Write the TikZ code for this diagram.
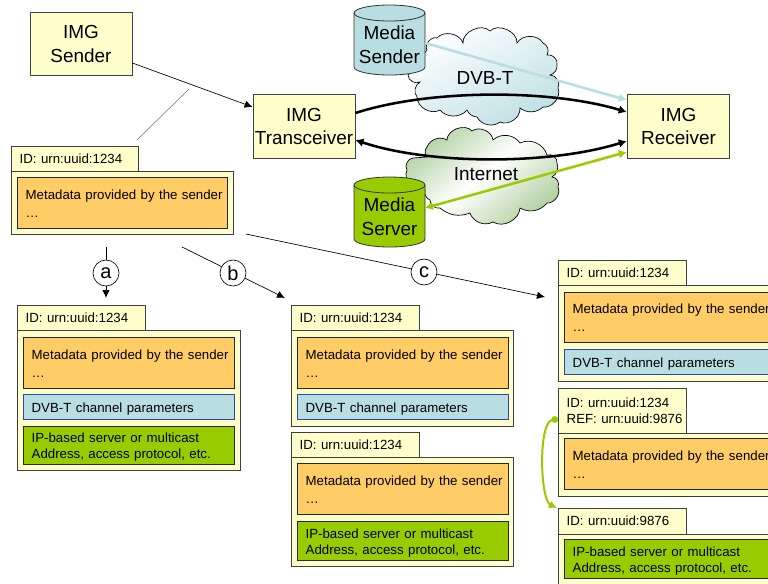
\documentclass[tikz,border=0pt]{standalone}
\usepackage{fontspec}
\setmainfont{Liberation Sans}
\usetikzlibrary{arrows.meta,shadings}
\definecolor{ylw}{HTML}{FFFFCC}
\definecolor{org}{HTML}{FFCC66}
\definecolor{blu}{HTML}{B9DEE2}
\definecolor{grn}{HTML}{99CC00}
\definecolor{cgrn}{HTML}{B0D0A0}
\definecolor{cblu}{HTML}{BFE0E4}
\definecolor{dblu}{HTML}{3344AA}
\tikzset{
 imgbox/.style={draw=black!75,fill=ylw,line width=0.6pt,align=center,font=\fontsize{14.2}{17.5}\selectfont},
 bigtxt/.style={font=\fontsize{14.2}{17.8}\selectfont,align=center,inner sep=0},
 framebox/.style={draw=black!75,fill=ylw,line width=0.6pt},
 tabbox/.style={framebox,font=\fontsize{9.95}{12}\selectfont},
 orgbox/.style={draw=black!85,fill=org,line width=0.6pt,font=\fontsize{9.95}{12.6}\selectfont},
 blubox/.style={draw=dblu,fill=blu,line width=0.6pt,font=\fontsize{9.95}{12}\selectfont},
 grnbox/.style={draw=black!85,fill=grn,line width=0.6pt,font=\fontsize{9.95}{12}\selectfont},
 conn/.style={-{Latex[length=6pt,width=5.5pt]},line width=0.5pt},
 heavy/.style={line width=1.9pt,>={Latex[length=6pt,width=6.5pt]}},
 circ/.style={circle,draw=black,fill=white,minimum size=19.5pt,inner sep=0,line width=0.5pt,font=\fontsize{15}{15}\selectfont},
 cloudline/.style={draw=black,line width=0.5pt},
}
% name, x0, y0, x1, y1, style, text
\newcommand{\recnode}[7]{%
 \pgfmathsetmacro{\rw}{(#4-#2)*0.75}\pgfmathsetmacro{\rh}{(#5-#3)*0.75}%
 \pgfmathsetmacro{\rtw}{max((#4-#2)*0.75-13,1)}%
 \node[#6,minimum width=\rw pt,minimum height=\rh pt,inner xsep=6.5pt,inner ysep=0pt,text width=\rtw pt,align=left] (#1) at ({(#2+#4)/2},{(#3+#5)/2}) {#7};}
\newcommand{\dn}[1]{\raisebox{-1.6pt}[0.75em][0.2em]{\mbox{#1}}}
\newcommand{\dt}[1]{\raisebox{-0.7pt}[0.75em][0.2em]{\mbox{#1}}}
\newcommand{\metatxt}{\dn{Metadata provided by the sender}\\[1pt]\dn{\ldots}}
\newcommand{\ipt}{\dn{IP-based server or multicast}\\\dn{Address, access protocol, etc.}}
\newcommand{\idt}{\dt{ID: urn:uuid:1234}}
\begin{document}
\begin{tikzpicture}[x=0.75pt,y=-0.75pt]
\useasboundingbox (0,0) rectangle (768,583);
\clip (0,0) rectangle (768,583);
\fill[white] (0,0) rectangle (768,583);
% clouds
\draw[cloudline,top color=white,bottom color=cblu,shading angle=30]
 (427,50) to[bend left=70] (437,38) to[bend left=60] (463,43) to[bend left=70] (490,31) to[bend left=70] (517,43) to[bend left=60] (543,43) to[bend left=50] (547,55) to[bend left=60] (557,65) to[bend left=40] (550,75) to[bend left=60] (558,88) to[bend left=60] (543,107) to[bend left=40] (520,108) to[bend left=60] (500,122) to[bend left=50] (477,117) to[bend left=30] (467,110) to[bend left=50] (440,110) to[bend left=60] (417,97) to[bend left=50] (420,82) to[bend left=60] (408,75) -- cycle;
\draw[cloudline,top color=cgrn,bottom color=cgrn,middle color=white,shading angle=40]
 (427,157) to[bend left=40] (427,147) to[bend left=50] (447,140) to[bend left=70] (472,131) to[bend left=60] (493,140) to[bend left=50] (520,143) to[bend left=50] (547,155) to[bend left=60] (557,163) to[bend left=40] (552,177) to[bend left=60] (558,187) to[bend left=60] (547,203) to[bend left=40] (520,208) to[bend left=60] (493,222) to[bend left=50] (470,213) to[bend left=30] (440,208) to[bend left=50] (430,200) to[bend left=40] (425,190) to[bend left=70] (407,170) to[bend left=60] (413,158) -- cycle;
\node[bigtxt] (dvbl) at (485,78) {DVB-T};
\node[bigtxt] (inetl) at (486,174) {Internet};
% cylinders
\foreach \nm/\ytop/\col in {ms/5/blu,sv/177/grn}{
 \draw[draw=black!80,fill=\col,line width=0.6pt] (354,\ytop+8) -- (354,\ytop+62) arc[start angle=180,end angle=0,x radius=35.5,y radius=8] -- (425,\ytop+8) arc[start angle=0,end angle=-180,x radius=35.5,y radius=8] -- cycle;
 \draw[draw=black!80,line width=0.6pt] (354,\ytop+8) arc[start angle=180,end angle=0,x radius=35.5,y radius=8];
}
\coordinate (ms) at (425,43);
\coordinate (sv) at (425,208);
\node[bigtxt] (msl) at (389.5,45) {Media\\Sender};
\node[bigtxt] (svl) at (389.5,217) {Media\\Server};
% IMG boxes
\node[imgbox,minimum width=76.5pt,minimum height=47.5pt,inner sep=0] (snd) at (81,44) {IMG\\Sender};
\node[imgbox,minimum width=76.5pt,minimum height=48pt,inner sep=0] (trx) at (304,126.5) {IMG\\Transceiver};
\node[imgbox,minimum width=77pt,minimum height=48pt,inner sep=0] (rcv) at (678.5,126.5) {IMG\\Receiver};
% connectors
\coordinate (s1) at (snd.east|-0,63);
\coordinate (t1) at (trx.west|-0,107);
\draw[conn] (s1) -- (t1);
\coordinate (g1) at (189,89);
\coordinate (g2) at (137,140);
\draw[black!55,line width=0.4pt] (g1) -- (g2);
\coordinate (t2) at (trx.east|-0,113);
\coordinate (r2) at (rcv.west|-0,112);
\draw[heavy,->] (t2) .. controls (430,89) and (550,89) .. (r2);
\coordinate (r3) at (rcv.west|-0,141);
\coordinate (t3) at (trx.east|-0,140);
\draw[heavy,<->] (r3) .. controls (550,165) and (430,165) .. (t3);
\coordinate (r4) at (rcv.west|-0,100);
\draw[heavy,draw=blu,->] (ms) -- (r4);
\coordinate (r5) at (rcv.west|-0,152);
\draw[heavy,draw=grn,<->] (sv) -- (r5);
% top box
\recnode{topb}{11}{171}{233}{234}{framebox}{}
\recnode{topt}{11}{146}{138}{171}{tabbox}{\idt}
\recnode{topo}{17}{177}{227}{228}{orgbox}{\metatxt}
% a box
\recnode{ab}{17}{330}{240}{470}{framebox}{}
\recnode{at}{17}{305}{145}{330}{tabbox}{\idt}
\recnode{ao}{23}{337}{234}{388}{orgbox}{\metatxt}
\recnode{ad}{23}{394}{234}{419}{blubox}{\dn{DVB-T channel parameters}}
\recnode{ag}{23}{426}{234}{464}{grnbox}{\ipt}
% b boxes
\recnode{bb}{291}{330}{513}{426}{framebox}{}
\recnode{bt}{291}{305}{419}{330}{tabbox}{\idt}
\recnode{bo}{297}{337}{508}{388}{orgbox}{\metatxt}
\recnode{bd}{297}{394}{508}{419}{blubox}{\dn{DVB-T channel parameters}}
\recnode{bc}{291}{457}{513}{566}{framebox}{}
\recnode{bs}{291}{432}{419}{457}{tabbox}{\idt}
\recnode{bp}{297}{463}{508}{514}{orgbox}{\metatxt}
\recnode{bg}{297}{521}{508}{560}{grnbox}{\ipt}
% c boxes
\recnode{cb}{558}{285}{780}{381}{framebox}{}
\recnode{ct}{558}{260}{686}{285}{tabbox}{\idt}
\recnode{co}{564}{292}{775}{342}{orgbox}{\metatxt}
\recnode{cd}{564}{349}{775}{374}{blubox}{\dn{DVB-T channel parameters}}
\recnode{cc}{558}{433}{780}{496}{framebox}{}
\recnode{cs}{558}{388}{686}{433}{tabbox}{\idt\\\dt{REF: urn:uuid:9876}}
\recnode{cp}{564}{438}{775}{489}{orgbox}{\metatxt}
\recnode{ce}{558}{534}{780}{590}{framebox}{}
\recnode{cu}{558}{508}{686}{534}{tabbox}{\dt{ID: urn:uuid:9876}}
\recnode{cg}{564}{539}{775}{578}{grnbox}{\ipt}
% branches
\coordinate (a0) at (106,247);
\coordinate (a1) at (106,298);
\coordinate (b0) at (182,247);
\coordinate (b1) at (285,298);
\coordinate (c0) at (246,234);
\coordinate (c1) at (545,297);
\draw[conn] (a0) -- (a1);
\draw[conn] (b0) -- (b1);
\draw[conn] (c0) -- (c1);
\node[circ] (ca) at (106,273) {a};
\node[circ] (cbb) at (233,273) {b};
\node[circ] (ccc) at (424,272) {c};
% reference link
\coordinate (l0) at (558,419);
\coordinate (l1) at (557,508);
\draw[draw=grn,line width=1.5pt,{Circle[length=5pt]}-{Latex[length=6pt,width=6pt]}] (l0) .. controls (538,422) and (540,500) .. (l1);
\end{tikzpicture}
\end{document}
